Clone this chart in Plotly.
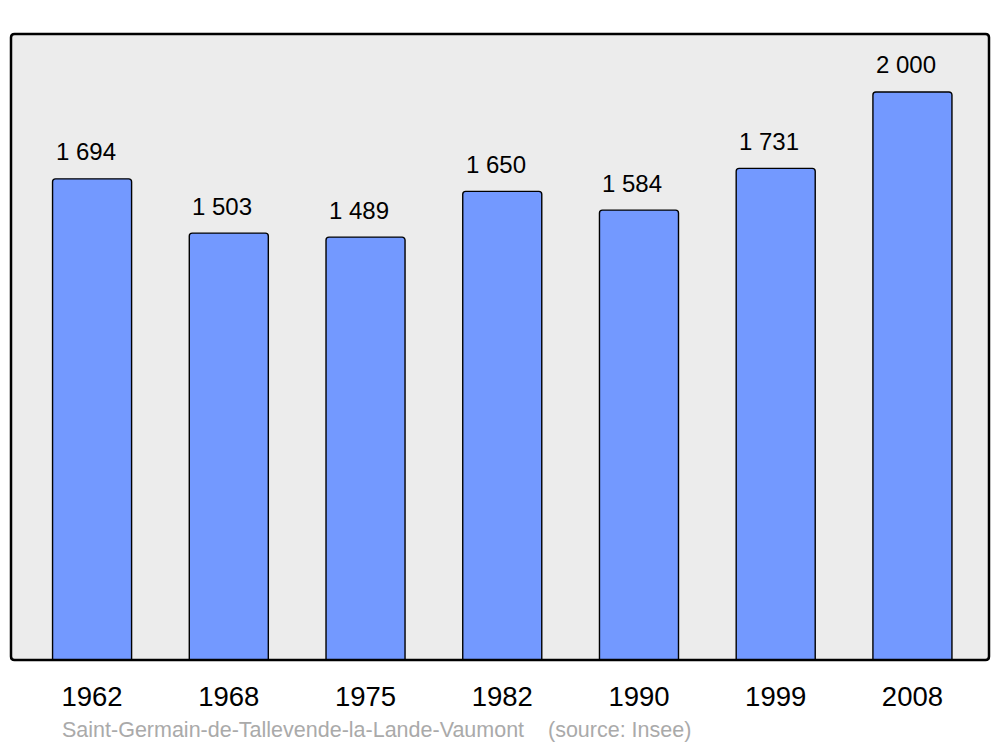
import plotly.graph_objects as go

years = ["1962", "1968", "1975", "1982", "1990", "1999", "2008"]
population = [1694, 1503, 1489, 1650, 1584, 1731, 2000]
labels = ["1 694", "1 503", "1 489", "1 650", "1 584", "1 731", "2 000"]
footer = "Saint-Germain-de-Tallevende-la-Lande-Vaumont    (source: Insee)"

W, H = 1000, 747
ml, mt = 11, 34
mr = W - 989
mb = H - 660
pw, ph = W - ml - mr, H - mt - mb

FONT = "Liberation Sans, Arial, sans-serif"

fig = go.Figure()
fig.add_trace(go.Bar(
    x=list(range(len(years))), y=population,
    width=0.578,
    marker=dict(color="#7399ff", line=dict(color="#000000", width=1.4)),
    hoverinfo="skip",
))

for i, (v, t) in enumerate(zip(population, labels)):
    fig.add_annotation(x=i, y=v, text=t, showarrow=False, yanchor="middle",
                       yshift=27, xshift=-6.5,
                       font=dict(size=24, color="#000000", family=FONT))

# rounded frame
r = 3.5
rx, ry = r / pw, r / ph
path = (f"M {rx},0 L {1-rx},0 Q 1,0 1,{ry} L 1,{1-ry} Q 1,1 {1-rx},1 "
        f"L {rx},1 Q 0,1 0,{1-ry} L 0,{ry} Q 0,0 {rx},0 Z")
fig.add_shape(type="path", path=path, xref="paper", yref="paper",
              line=dict(color="#000000", width=2.5), layer="above")

fig.add_annotation(x=(60 - ml) / pw, y=-(730 - 660) / ph, xref="paper", yref="paper",
                   text=footer, showarrow=False, xanchor="left", yanchor="middle",
                   font=dict(size=21.5, color="#aaaaaa", family=FONT))

fig.update_layout(
    width=W, height=H,
    margin=dict(l=ml, r=mr, t=mt, b=mb),
    paper_bgcolor="#ffffff",
    plot_bgcolor="#ececec",
    showlegend=False,
    barcornerradius=3,
    hovermode=False,
    xaxis=dict(range=[-0.593, 6.56], tickmode="array",
               tickvals=list(range(len(years))), ticktext=years,
               showgrid=False, zeroline=False, showline=False, ticks="",
               ticklabelstandoff=17, fixedrange=True,
               tickfont=dict(size=27.5, color="#000000", family=FONT)),
    yaxis=dict(range=[0, 2204], showgrid=False, zeroline=False, fixedrange=True,
               showticklabels=False, showline=False, ticks=""),
)

fig.write_html("out.html", config={"displayModeBar": False, "staticPlot": True},
               post_script="document.body.style.margin='0';document.body.style.overflow='hidden';")
